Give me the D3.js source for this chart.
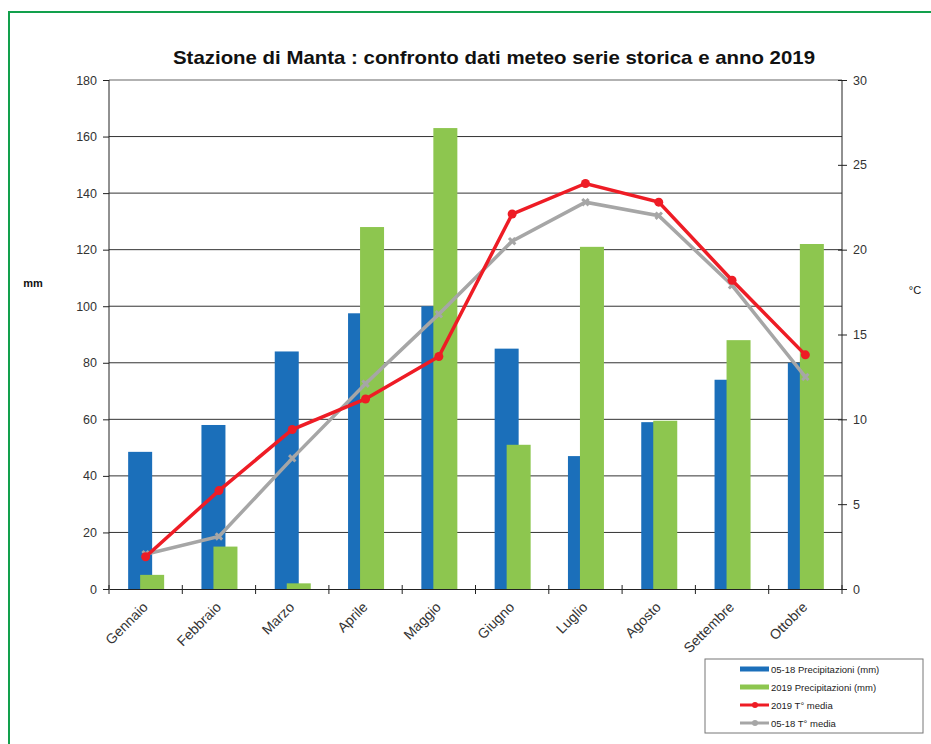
<!doctype html>
<html>
<head>
<meta charset="utf-8">
<title>Stazione di Manta</title>
<script src="https://d3js.org/d3.v7.min.js"></script>
<style>
  body { margin: 0; background: #fff; }
  svg text { font-family: "Liberation Sans", Arial, sans-serif; }
</style>
</head>
<body>
<div id="chart"></div>
<script>
// data
var months = ["Gennaio", "Febbraio", "Marzo", "Aprile", "Maggio", "Giugno", "Luglio", "Agosto", "Settembre", "Ottobre"];
var precStorica = [48.5, 58, 84, 97.5, 100, 85, 47, 59, 74, 80];      // 05-18 Precipitazioni (mm)
var prec2019 = [5, 15, 2, 128, 163, 51, 121, 59.5, 88, 122];          // 2019 Precipitazioni (mm)
var temp2019 = [1.9, 5.8, 9.4, 11.2, 13.7, 22.1, 23.9, 22.8, 18.2, 13.8]; // 2019 T° media
var tempStorica = [2.05, 3.1, 7.7, 12.1, 16.2, 20.5, 22.8, 22.0, 17.9, 12.5]; // 05-18 T° media
var mmTicks = [0, 20, 40, 60, 80, 100, 120, 140, 160, 180];
var cTicks = [0, 5, 10, 15, 20, 25, 30];

var W = 931, H = 744;
var plotL = 109, plotR = 842, plotT = 80, plotB = 589;

var svg = d3.select("#chart").append("svg")
    .attr("width", W).attr("height", H);

// green frame
svg.append("rect")
    .attr("x", 9).attr("y", 12)
    .attr("width", W + 20).attr("height", H + 20)
    .attr("fill", "none").attr("stroke", "#12a04c").attr("stroke-width", 2);

var x = d3.scaleBand().domain(months).range([plotL, plotR]);
var yL = d3.scaleLinear().domain([0, 180]).range([plotB, plotT]);
var yR = d3.scaleLinear().domain([0, 30]).range([plotB, plotT]);

// gridlines
svg.append("g").selectAll("line")
    .data(mmTicks.filter(function(d) { return d > 0; }))
    .enter().append("line")
    .attr("x1", plotL).attr("x2", plotR)
    .attr("y1", function(d) { return yL(d); })
    .attr("y2", function(d) { return yL(d); })
    .attr("stroke", function(d) { return d == 180 ? "#999" : "#333"; })
    .attr("stroke-width", function(d) { return d == 180 ? 1.5 : 1; });

// bars: blue first, green overlapping on top
var bw = 24;
svg.append("g").selectAll("rect")
    .data(precStorica)
    .enter().append("rect")
    .attr("x", function(d, i) { return x(months[i]) + x.bandwidth() / 2 - 17.5; })
    .attr("y", function(d) { return yL(d); })
    .attr("width", bw)
    .attr("height", function(d) { return plotB - yL(d); })
    .attr("fill", "#1b6fba");

svg.append("g").selectAll("rect")
    .data(prec2019)
    .enter().append("rect")
    .attr("x", function(d, i) { return x(months[i]) + x.bandwidth() / 2 - 5.5; })
    .attr("y", function(d) { return yL(d); })
    .attr("width", bw)
    .attr("height", function(d) { return plotB - yL(d); })
    .attr("fill", "#8dc64f");

// axes
var axisL = svg.append("g")
    .attr("transform", "translate(" + plotL + ",0)")
    .call(d3.axisLeft(yL).tickValues(mmTicks).tickSize(6).tickPadding(6));
var axisR = svg.append("g")
    .attr("transform", "translate(" + plotR + ",0)")
    .call(d3.axisRight(yR).tickValues(cTicks).tickSize(5).tickPadding(6));
axisR.selectAll(".tick line").attr("x1", -4);
var axisB = svg.append("g")
    .attr("transform", "translate(0," + plotB + ")")
    .call(d3.axisBottom(x).tickSize(0).tickFormat(""));

[axisL, axisR, axisB].forEach(function(a) {
  a.select(".domain").attr("stroke", "#222");
  a.selectAll(".tick line").attr("stroke", "#222");
  a.selectAll("text").attr("font-size", 12.5).attr("fill", "#333")
    .attr("font-family", "Liberation Sans, Arial, sans-serif");
});
axisL.select(".domain").attr("d", "M0," + plotT + "V" + plotB);
axisR.select(".domain").attr("d", "M0," + plotT + "V" + plotB);

// x ticks between categories
svg.append("g").selectAll("line")
    .data(months.concat(["end"]))
    .enter().append("line")
    .attr("x1", function(d, i) { return plotL + i * x.step(); })
    .attr("x2", function(d, i) { return plotL + i * x.step(); })
    .attr("y1", plotB - 4).attr("y2", plotB + 5)
    .attr("stroke", "#222");

// x labels
svg.append("g").selectAll("text")
    .data(months)
    .enter().append("text")
    .attr("transform", function(d) {
      return "translate(" + (x(d) + x.bandwidth() / 2 + 3) + "," + (plotB + 19) + ") rotate(-45)";
    })
    .attr("text-anchor", "end")
    .attr("font-size", 14)
    .attr("fill", "#333")
    .text(function(d) { return d; });

// temperature lines
var line = function(vals) {
  return d3.line()
    .x(function(d, i) { return x(months[i]) + x.bandwidth() / 2; })
    .y(function(d) { return yR(d); })(vals);
};

svg.append("path")
    .attr("d", line(tempStorica))
    .attr("fill", "none").attr("stroke", "#a6a6a6").attr("stroke-width", 3.5);
svg.append("g").selectAll("path")
    .data(tempStorica)
    .enter().append("path")
    .attr("transform", function(d, i) { return "translate(" + (x(months[i]) + x.bandwidth() / 2) + "," + yR(d) + ") rotate(45)"; })
    .attr("d", d3.symbol().type(d3.symbolCross).size(45))
    .attr("fill", "#a6a6a6");

svg.append("path")
    .attr("d", line(temp2019))
    .attr("fill", "none").attr("stroke", "#ee1c25").attr("stroke-width", 3.5);
svg.append("g").selectAll("circle")
    .data(temp2019)
    .enter().append("circle")
    .attr("cx", function(d, i) { return x(months[i]) + x.bandwidth() / 2; })
    .attr("cy", function(d) { return yR(d); })
    .attr("r", 4.5)
    .attr("fill", "#ee1c25");

// title and axis names
svg.append("text")
    .attr("x", 494).attr("y", 64)
    .attr("text-anchor", "middle")
    .attr("font-size", 19).attr("font-weight", "bold").attr("fill", "#111")
    .attr("textLength", 642).attr("lengthAdjust", "spacingAndGlyphs")
    .text("Stazione di Manta : confronto dati meteo serie storica e anno 2019");
svg.append("text")
    .attr("x", 33).attr("y", 287).attr("text-anchor", "middle")
    .attr("font-size", 11).attr("font-weight", "bold").attr("fill", "#111")
    .text("mm");
svg.append("text")
    .attr("x", 915).attr("y", 294).attr("text-anchor", "middle")
    .attr("font-size", 11).attr("fill", "#111")
    .text("°C");

// legend
var legend = [
  {name: "05-18 Precipitazioni (mm)", color: "#1b6fba", type: "bar"},
  {name: "2019 Precipitazioni (mm)", color: "#8dc64f", type: "bar"},
  {name: "2019 T° media", color: "#ee1c25", type: "line"},
  {name: "05-18 T° media", color: "#a6a6a6", type: "line"}
];
svg.append("rect")
    .attr("x", 705).attr("y", 659).attr("width", 218).attr("height", 74)
    .attr("fill", "#fff").attr("stroke", "#777").attr("stroke-width", 1);
var lg = svg.append("g").selectAll("g")
    .data(legend)
    .enter().append("g")
    .attr("transform", function(d, i) { return "translate(740," + (669 + i * 18) + ")"; });
lg.append("line")
    .attr("x1", 0).attr("x2", 29).attr("y1", 0).attr("y2", 0)
    .attr("stroke", function(d) { return d.color; })
    .attr("stroke-width", function(d) { return d.type == "bar" ? 5 : 3; });
lg.filter(function(d) { return d.type == "line"; }).append("circle")
    .attr("cx", 15).attr("cy", 0).attr("r", 3)
    .attr("fill", function(d) { return d.color; });
lg.append("text")
    .attr("x", 31).attr("y", 3.5)
    .attr("font-size", 9.5).attr("fill", "#222")
    .text(function(d) { return d.name; });
</script>
</body>
</html>
